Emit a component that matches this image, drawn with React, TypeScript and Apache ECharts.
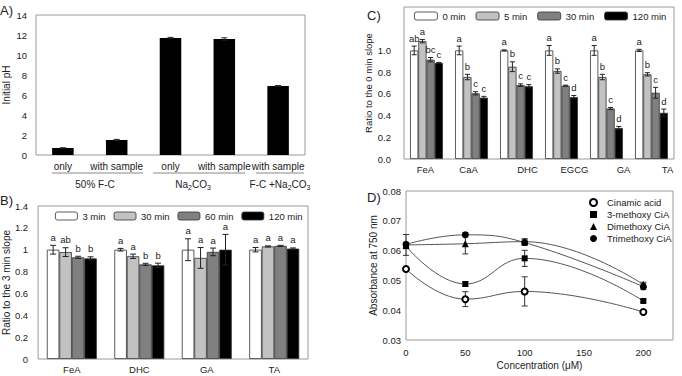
import React, { useEffect, useRef } from "react";
import * as echarts from "echarts";

const FONT = '"Liberation Sans", Arial, Helvetica, sans-serif';
const INK = "#222";
const FRAME = "#9a9a9a";
const FILLS = ["#ffffff", "#c2c2c2", "#808080", "#000000"];

// ---- A) initial pH of the reaction media ----
const phLabels = ["only", "with sample", "only", "with sample", "with sample"];
const phValues = [0.7, 1.5, 11.7, 11.6, 6.9];
const phErrors = [0.02, 0.06, 0.06, 0.12, 0.05];
const phGroupNames = ["50% F-C", "Na2CO3", "F-C +Na2CO3"];

// ---- B) slope ratio vs. 3 min ----
const compoundsB = ["FeA", "DHC", "GA", "TA"];
const timesB = ["3 min", "30 min", "60 min", "120 min"];
const ratioB = [
  [1.0, 1.0, 1.0, 1.0],
  [0.978, 0.94, 0.925, 1.03],
  [0.93, 0.866, 0.98, 1.035],
  [0.92, 0.857, 1.0, 1.01],
];
const errB = [
  [0.04, 0.012, 0.1, 0.02],
  [0.04, 0.02, 0.095, 0.005],
  [0.01, 0.01, 0.035, 0.005],
  [0.015, 0.02, 0.14, 0.006],
];
const lettersB = [
  ["a", "a", "a", "a"],
  ["ab", "a", "a", "a"],
  ["b", "b", "a", "a"],
  ["b", "b", "a", "a"],
];

// ---- C) slope ratio vs. 0 min ----
const compoundsC = ["FeA", "CaA", "DHC", "EGCG", "GA", "TA"];
const timesC = ["0 min", "5 min", "30 min", "120 min"];
const ratioC = [
  [1.0, 1.0, 1.0, 1.0, 1.0, 1.0],
  [1.085, 0.755, 0.85, 0.81, 0.755, 0.78],
  [0.915, 0.605, 0.68, 0.675, 0.465, 0.61],
  [0.885, 0.565, 0.67, 0.57, 0.285, 0.425],
];
const errC = [
  [0.04, 0.04, 0.005, 0.045, 0.045, 0.01],
  [0.015, 0.025, 0.045, 0.02, 0.025, 0.015],
  [0.02, 0.015, 0.012, 0.005, 0.01, 0.05],
  [0.004, 0.012, 0.015, 0.015, 0.015, 0.035],
];
const lettersC = [
  ["ab", "a", "a", "a", "a", "a"],
  ["a", "b", "b", "b", "b", "b"],
  ["bc", "c", "c", "c", "c", "c"],
  ["c", "c", "c", "d", "d", "d"],
];
const labelShiftC = [-1, -3, 11, 13, 17, 16];

// ---- D) absorbance vs. concentration ----
const concentrations = [0, 50, 100, 200];
const curveNames = ["Cinamic acid", "3-methoxy CiA", "Dimethoxy CiA", "Trimethoxy CiA"];
const cinamic = [0.0538, 0.0437, 0.0463, 0.0394];
const cinamicErr = [0.0004, 0.0025, 0.0049, 0.0003];
const methoxy = [0.0615, 0.0488, 0.0574, 0.0431];
const methoxyErr = [0.0005, 0.0008, 0.0027, 0.0005];
const dimethoxy = [0.0619, 0.0623, 0.063, 0.0486];
const dimethoxyErr = [0.0035, 0.0034, 0.001, 0.0008];
const trimethoxy = [0.0621, 0.0653, 0.0627, 0.0479];
const trimethoxyErr = [0.0006, 0.0007, 0.0009, 0.001];

const subscriptDigits = (s: string) => s.replace(/([A-Za-z])(\d+)/g, (_m, a, d) => `${a}{s|${d}}`);

function groupErrors(
  gridIndex: number,
  values: number[][],
  errors: number[][],
  letters: string[][] | null,
  gap: number,
  capHalf: number,
  fontSize: number
) {
  const n = values.length;
  const data: number[][] = [];
  const tags: string[] = [];
  values.forEach((row, s) =>
    row.forEach((v, c) => {
      data.push([c, v, errors[s][c], s]);
      tags.push(letters ? letters[s][c] : "");
    })
  );
  return {
    type: "custom",
    xAxisIndex: gridIndex,
    yAxisIndex: gridIndex,
    silent: true,
    z: 10,
    data,
    renderItem: (params: any, api: any) => {
      const c = api.value(0);
      const v = api.value(1);
      const e = api.value(2);
      const s = api.value(3);
      const band = api.size([1, 0])[0];
      const groupW = band * (1 - gap);
      const bw = groupW / n;
      const x = api.coord([c, v])[0] - groupW / 2 + bw * (s + 0.5);
      const yTop = api.coord([c, v + e])[1];
      const yBot = api.coord([c, v - e])[1];
      const style = { stroke: "#222", lineWidth: 1 };
      const children: any[] = [
        { type: "line", shape: { x1: x, y1: yTop, x2: x, y2: yBot }, style },
        { type: "line", shape: { x1: x - capHalf, y1: yTop, x2: x + capHalf, y2: yTop }, style },
        { type: "line", shape: { x1: x - capHalf, y1: yBot, x2: x + capHalf, y2: yBot }, style },
      ];
      const tag = tags[params.dataIndex];
      if (tag) {
        children.push({
          type: "text",
          x,
          y: yTop - 3,
          style: { text: tag, align: "center", verticalAlign: "bottom", fontSize, fontFamily: FONT, fill: INK },
        });
      }
      return { type: "group", children };
    },
  };
}

function xyErrors(gridIndex: number, xs: number[], ys: number[], es: number[], capHalf: number) {
  return {
    type: "custom",
    xAxisIndex: gridIndex,
    yAxisIndex: gridIndex,
    silent: true,
    z: 1,
    data: xs.map((x, i) => [x, ys[i], es[i]]),
    renderItem: (_p: any, api: any) => {
      const xv = api.value(0);
      const yv = api.value(1);
      const e = api.value(2);
      const top = api.coord([xv, yv + e]);
      const bot = api.coord([xv, yv - e]);
      const style = { stroke: "#333", lineWidth: 1 };
      return {
        type: "group",
        children: [
          { type: "line", shape: { x1: top[0], y1: top[1], x2: bot[0], y2: bot[1] }, style },
          { type: "line", shape: { x1: top[0] - capHalf, y1: top[1], x2: top[0] + capHalf, y2: top[1] }, style },
          { type: "line", shape: { x1: bot[0] - capHalf, y1: bot[1], x2: bot[0] + capHalf, y2: bot[1] }, style },
        ],
      };
    },
  };
}

const valueAxisBase = {
  axisLine: { show: false },
  axisTick: { show: false },
  splitLine: { show: false },
  nameLocation: "middle",
  nameTextStyle: { fontSize: 10, color: INK, fontFamily: FONT },
};

function buildOption() {
  const gapB = 0.26;
  const gapC = 0.27;
  const gapA = 0.6;

  const barsB = timesB.map((t, s) => ({
    type: "bar",
    name: "B:" + t,
    xAxisIndex: 1,
    yAxisIndex: 1,
    data: ratioB[s],
    barGap: 0,
    barCategoryGap: gapB * 100 + "%",
    itemStyle: { color: FILLS[s], borderColor: "#333", borderWidth: 0.8 },
  }));
  const barsC = timesC.map((t, s) => ({
    type: "bar",
    name: "C:" + t,
    xAxisIndex: 2,
    yAxisIndex: 2,
    data: ratioC[s],
    barGap: 0,
    barCategoryGap: gapC * 100 + "%",
    itemStyle: { color: FILLS[s], borderColor: "#333", borderWidth: 0.8 },
  }));

  const curves = [cinamic, methoxy, dimethoxy, trimethoxy];
  const curveErrs = [cinamicErr, methoxyErr, dimethoxyErr, trimethoxyErr];
  const symbols = ["emptyCircle", "rect", "triangle", "circle"];
  const symbolSizes = [6, 6, 7, 7];
  const lines = curveNames.map((name, k) => ({
    type: "line",
    name,
    xAxisIndex: 3,
    yAxisIndex: 3,
    smooth: 0.45,
    data: concentrations.map((x, i) => [x, curves[k][i]]),
    symbol: symbols[k],
    symbolSize: symbolSizes[k],
    lineStyle: { color: "#555", width: 1 },
    itemStyle: { color: "#000" },
    z: 5,
  }));

  const shiftRich: Record<string, any> = {};
  labelShiftC.forEach((d, i) => {
    shiftRich["c" + i] = {
      fontSize: 9.5,
      color: INK,
      fontFamily: FONT,
      padding: d >= 0 ? [0, 0, 0, 2 * d] : [0, -2 * d, 0, 0],
    };
  });

  const groupLineY = 173;
  const groupSpans = [
    [52, 143],
    [153, 245],
    [256, 304],
  ];
  const groupCenters = [95, 193, 280];

  return {
    animation: false,
    backgroundColor: "#fff",
    textStyle: { fontFamily: FONT, color: INK },
    grid: [
      { left: 35, top: 15, width: 270, height: 140, show: true, borderColor: FRAME, borderWidth: 1 },
      { left: 37, top: 206, width: 271, height: 153, show: true, borderColor: FRAME, borderWidth: 1 },
      { left: 404, top: 7, width: 270, height: 152, show: true, borderColor: FRAME, borderWidth: 1 },
      { left: 406, top: 191, width: 267, height: 149, show: true, borderColor: FRAME, borderWidth: 1 },
    ],
    xAxis: [
      {
        type: "category",
        gridIndex: 0,
        data: phLabels,
        axisLine: { show: false },
        axisTick: { show: false },
        axisLabel: { interval: 0, margin: 6, fontSize: 10, color: INK },
      },
      {
        type: "category",
        gridIndex: 1,
        data: compoundsB,
        axisLine: { show: false },
        axisTick: { show: false },
        axisLabel: { interval: 0, margin: 5, fontSize: 9.5, color: INK },
      },
      {
        type: "category",
        gridIndex: 2,
        data: compoundsC,
        axisLine: { show: false },
        axisTick: { show: false },
        axisLabel: {
          interval: 0,
          margin: 5,
          formatter: (v: string, i: number) => `{c${i}|${v}}`,
          rich: shiftRich,
        },
      },
      {
        ...valueAxisBase,
        type: "value",
        gridIndex: 3,
        min: 0,
        max: 225,
        interval: 50,
        name: "Concentration (\u03bcM)",
        nameGap: 20,
        axisLabel: { margin: 7, fontSize: 9.5, color: INK, showMaxLabel: false },
      },
    ],
    yAxis: [
      {
        ...valueAxisBase,
        type: "value",
        gridIndex: 0,
        min: 0,
        max: 14,
        interval: 2,
        name: "Initial pH",
        nameGap: 25,
        axisLabel: { margin: 9, fontSize: 9.5, color: INK },
      },
      {
        ...valueAxisBase,
        type: "value",
        gridIndex: 1,
        min: 0,
        max: 1.4,
        interval: 0.2,
        name: "Ratio to the 3 min slope",
        nameGap: 27,
        axisLabel: { margin: 10, fontSize: 9.5, color: INK },
      },
      {
        ...valueAxisBase,
        type: "value",
        gridIndex: 2,
        min: 0,
        max: 1.4,
        interval: 0.2,
        name: "Ratio to the 0 min slope",
        nameGap: 23,
        nameTextStyle: { fontSize: 9.5, color: INK, fontFamily: FONT },
        axisLabel: {
          margin: 13,
          fontSize: 9.5,
          color: INK,
          formatter: (v: number) => (v > 1.0001 ? "" : v.toFixed(1)),
        },
      },
      {
        ...valueAxisBase,
        type: "value",
        gridIndex: 3,
        min: 0.03,
        max: 0.08,
        interval: 0.01,
        name: "Absorbance at 750 nm",
        nameGap: 26,
        axisLabel: { margin: 5, fontSize: 9.5, color: INK, formatter: (v: number) => v.toFixed(2) },
      },
    ],
    legend: [
      {
        left: 55,
        top: 211,
        padding: 0,
        itemWidth: 22,
        itemHeight: 8,
        itemGap: 8,
        selectedMode: false,
        data: timesB.map((t) => "B:" + t),
        formatter: (n: string) => n.slice(2),
        textStyle: { fontSize: 9.5, color: INK, fontFamily: FONT },
        itemStyle: { borderColor: "#333", borderWidth: 0.8 },
      },
      {
        left: 414,
        top: 11,
        padding: 0,
        itemWidth: 23,
        itemHeight: 8,
        itemGap: 10,
        selectedMode: false,
        data: timesC.map((t) => "C:" + t),
        formatter: (n: string) => n.slice(2),
        textStyle: { fontSize: 9.5, color: INK, fontFamily: FONT },
        itemStyle: { borderColor: "#333", borderWidth: 0.8 },
      },
      {
        left: 589,
        top: 197,
        padding: 0,
        orient: "vertical",
        itemWidth: 7,
        itemHeight: 7,
        itemGap: 1,
        selectedMode: false,
        data: curveNames.map((name, k) => ({ name, icon: symbols[k] })),
        textStyle: { fontSize: 9.5, color: INK, fontFamily: FONT, lineHeight: 11, padding: [0, 0, 0, 5] },
      },
    ],
    series: [
      {
        type: "bar",
        name: "pH",
        xAxisIndex: 0,
        yAxisIndex: 0,
        data: phValues,
        barCategoryGap: gapA * 100 + "%",
        itemStyle: { color: "#000" },
      },
      groupErrors(0, [phValues], [phErrors], null, gapA, 3, 10),
      ...barsB,
      groupErrors(1, ratioB, errB, lettersB, gapB, 3, 9.5),
      ...barsC,
      groupErrors(2, ratioC, errC, lettersC, gapC, 2.5, 9.5),
      ...curves.map((ys, k) => xyErrors(3, concentrations, ys, curveErrs[k], 3)),
      ...lines,
    ],
    graphic: [
      ...groupSpans.map(([x1, x2]) => ({
        type: "line",
        shape: { x1, y1: groupLineY, x2, y2: groupLineY },
        style: { stroke: "#888", lineWidth: 1 },
      })),
      ...phGroupNames.map((g, i) => ({
        type: "text",
        x: groupCenters[i],
        y: 184,
        style: {
          text: subscriptDigits(g),
          align: "center",
          verticalAlign: "middle",
          fontSize: 10,
          lineHeight: 13,
          fontFamily: FONT,
          fill: INK,
          rich: { s: { fontSize: 7, lineHeight: 7, verticalAlign: "bottom", fontFamily: FONT, fill: INK } },
        },
      })),
      { type: "text", x: 0, y: 4, style: { text: "A)", fontSize: 13, fontFamily: FONT, fill: INK } },
      { type: "text", x: 0, y: 194, style: { text: "B)", fontSize: 13, fontFamily: FONT, fill: INK } },
      { type: "text", x: 367, y: 9, style: { text: "C)", fontSize: 13, fontFamily: FONT, fill: INK } },
      { type: "text", x: 367, y: 191, style: { text: "D)", fontSize: 13, fontFamily: FONT, fill: INK } },
    ],
  };
}

export default function App() {
  const ref = useRef<HTMLDivElement>(null);
  useEffect(() => {
    if (!ref.current) return;
    const chart = echarts.init(ref.current, undefined, { renderer: "svg" });
    chart.setOption(buildOption() as any);
    return () => chart.dispose();
  }, []);
  return <div ref={ref} style={{ position: "fixed", left: 0, top: 0, width: 682, height: 376 }} />;
}
